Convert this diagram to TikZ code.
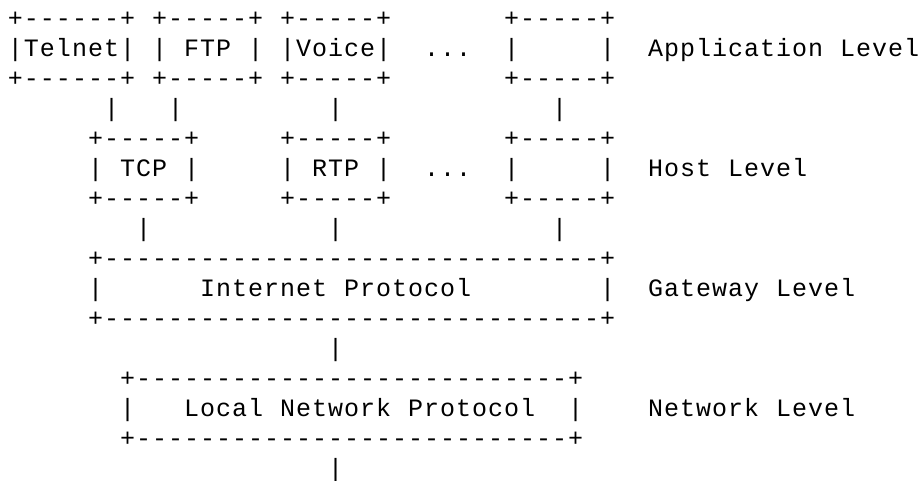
\documentclass[tikz,border=0pt]{standalone}
\usepackage{fontspec}
% monospaced face, tracked slightly so that each cell is 16pt wide
\newfontfamily\asciifont[LetterSpace=4]{Liberation Mono}
\begin{document}
\begin{tikzpicture}[x=16pt,y=30pt,
  ascii/.style={font=\asciifont\fontsize{25pt}{30pt}\selectfont,
                inner sep=0pt, outer sep=0pt, anchor=base west}]
% page frame: origin is the baseline of the first text row, left edge of column 0
\useasboundingbox (-8pt,26.7pt) rectangle (915pt,-454.3pt);

% ---- application level
\node[ascii] (telnetT) at (0,0)  {+------+};
\node[ascii] (ftpT)    at (9,0)  {+-----+};
\node[ascii] (voiceT)  at (17,0) {+-----+};
\node[ascii] (appxT)   at (31,0) {+-----+};
\node[ascii] (telnet)  at (0,-1)  {|Telnet|};
\node[ascii] (ftpL)    at (9,-1)  {|};
\node[ascii] (ftp)     at (11,-1) {FTP};
\node[ascii] (ftpR)    at (15,-1) {|};
\node[ascii] (voice)   at (17,-1) {|Voice|};
\node[ascii] (appdots) at (26,-1) {...};
\node[ascii] (appxL)   at (31,-1) {|};
\node[ascii] (appxR)   at (37,-1) {|};
\node[ascii] (applvl)  at (40,-1) {Application};
\node[ascii] (applvl2) at (52,-1) {Level};
\node[ascii] (telnetB) at (0,-2)  {+------+};
\node[ascii] (ftpB)    at (9,-2)  {+-----+};
\node[ascii] (voiceB)  at (17,-2) {+-----+};
\node[ascii] (appxB)   at (31,-2) {+-----+};

% ---- links down to the host level
\node[ascii] (l1) at (6,-3)  {|};
\node[ascii] (l2) at (10,-3) {|};
\node[ascii] (l3) at (20,-3) {|};
\node[ascii] (l4) at (34,-3) {|};

% ---- host level
\node[ascii] (tcpT)    at (5,-4)  {+-----+};
\node[ascii] (rtpT)    at (17,-4) {+-----+};
\node[ascii] (hostxT)  at (31,-4) {+-----+};
\node[ascii] (tcpL)    at (5,-5)  {|};
\node[ascii] (tcp)     at (7,-5)  {TCP};
\node[ascii] (tcpR)    at (11,-5) {|};
\node[ascii] (rtpL)    at (17,-5) {|};
\node[ascii] (rtp)     at (19,-5) {RTP};
\node[ascii] (rtpR)    at (23,-5) {|};
\node[ascii] (hostdots) at (26,-5) {...};
\node[ascii] (hostxL)  at (31,-5) {|};
\node[ascii] (hostxR)  at (37,-5) {|};
\node[ascii] (hostlvl) at (40,-5) {Host};
\node[ascii] (hostlvl2) at (45,-5) {Level};
\node[ascii] (tcpB)    at (5,-6)  {+-----+};
\node[ascii] (rtpB)    at (17,-6) {+-----+};
\node[ascii] (hostxB)  at (31,-6) {+-----+};

% ---- links down to IP
\node[ascii] (l5) at (8,-7)  {|};
\node[ascii] (l6) at (20,-7) {|};
\node[ascii] (l7) at (34,-7) {|};

% ---- gateway level
\node[ascii] (ipT)    at (5,-8)  {+-------------------------------+};
\node[ascii] (ipL)    at (5,-9)  {|};
\node[ascii] (ip)     at (12,-9) {Internet};
\node[ascii] (ip2)    at (21,-9) {Protocol};
\node[ascii] (ipR)    at (37,-9) {|};
\node[ascii] (gwlvl)  at (40,-9) {Gateway};
\node[ascii] (gwlvl2) at (48,-9) {Level};
\node[ascii] (ipB)    at (5,-10) {+-------------------------------+};

\node[ascii] (l8) at (20,-11) {|};

% ---- network level
\node[ascii] (lnpT)   at (7,-12)  {+---------------------------+};
\node[ascii] (lnpL)   at (7,-13)  {|};
\node[ascii] (lnp)    at (11,-13) {Local};
\node[ascii] (lnp2)   at (17,-13) {Network};
\node[ascii] (lnp3)   at (25,-13) {Protocol};
\node[ascii] (lnpR)   at (35,-13) {|};
\node[ascii] (netlvl) at (40,-13) {Network};
\node[ascii] (netlvl2) at (48,-13) {Level};
\node[ascii] (lnpB)   at (7,-14)  {+---------------------------+};

\node[ascii] (l9) at (20,-15) {|};
\end{tikzpicture}
\end{document}
